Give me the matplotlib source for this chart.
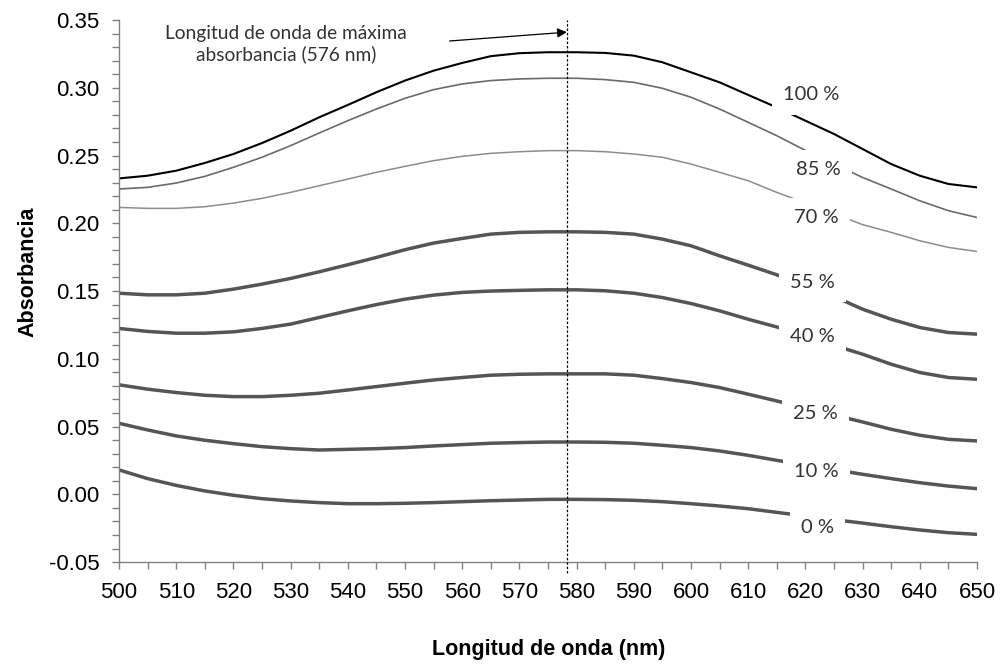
import matplotlib
matplotlib.use("Agg")
import matplotlib.pyplot as plt
from matplotlib.ticker import MultipleLocator, FormatStrFormatter

# ── Data (every 5 nm) ────────────────────────────────────────────────────────
wavelength = [500, 505, 510, 515, 520, 525, 530, 535, 540, 545, 550, 555, 560, 565, 570, 575,
              580, 585, 590, 595, 600, 605, 610, 615, 620, 625, 630, 635, 640, 645, 650]

abs_100 = [0.2331, 0.2351, 0.2388, 0.2445, 0.2511, 0.2592, 0.2683, 0.2782, 0.2873, 0.2967, 0.3053,
           0.3126, 0.3183, 0.3233, 0.3255, 0.3262, 0.3262, 0.3257, 0.3237, 0.3188, 0.3114, 0.3040,
           0.2947, 0.2855, 0.2757, 0.2659, 0.2548, 0.2437, 0.2351, 0.2290, 0.2265]
abs_85 = [0.2253, 0.2265, 0.2297, 0.2346, 0.2413, 0.2487, 0.2573, 0.2666, 0.2757, 0.2843, 0.2922,
          0.2986, 0.3028, 0.3053, 0.3065, 0.3070, 0.3070, 0.3060, 0.3040, 0.2996, 0.2930, 0.2843,
          0.2745, 0.2646, 0.2538, 0.2438, 0.2338, 0.2253, 0.2166, 0.2093, 0.2043]
abs_70 = [0.2117, 0.2110, 0.2110, 0.2122, 0.2149, 0.2184, 0.2228, 0.2277, 0.2326, 0.2376, 0.2420,
          0.2462, 0.2494, 0.2516, 0.2528, 0.2536, 0.2536, 0.2528, 0.2511, 0.2487, 0.2437, 0.2376,
          0.2314, 0.2228, 0.2150, 0.2070, 0.1990, 0.1933, 0.1871, 0.1822, 0.1792]
abs_55 = [0.1484, 0.1472, 0.1472, 0.1484, 0.1514, 0.1551, 0.1593, 0.1642, 0.1694, 0.1748, 0.1805,
          0.1854, 0.1888, 0.1920, 0.1933, 0.1937, 0.1937, 0.1933, 0.1920, 0.1883, 0.1834, 0.1760,
          0.1691, 0.1620, 0.1537, 0.1460, 0.1366, 0.1292, 0.1231, 0.1194, 0.1182]
abs_40 = [0.1224, 0.1202, 0.1189, 0.1189, 0.1199, 0.1224, 0.1256, 0.1305, 0.1354, 0.1400, 0.1440,
          0.1470, 0.1490, 0.1500, 0.1505, 0.1509, 0.1509, 0.1502, 0.1484, 0.1452, 0.1408, 0.1354,
          0.1292, 0.1235, 0.1164, 0.1099, 0.1034, 0.0960, 0.0899, 0.0862, 0.0849]
abs_25 = [0.0808, 0.0776, 0.0751, 0.0731, 0.0721, 0.0721, 0.0731, 0.0746, 0.0770, 0.0795, 0.0820,
          0.0844, 0.0862, 0.0879, 0.0886, 0.0889, 0.0889, 0.0889, 0.0879, 0.0854, 0.0825, 0.0788,
          0.0739, 0.0689, 0.0637, 0.0585, 0.0534, 0.0480, 0.0436, 0.0406, 0.0394]
abs_10 = [0.0524, 0.0475, 0.0431, 0.0399, 0.0374, 0.0352, 0.0337, 0.0327, 0.0332, 0.0337, 0.0345,
          0.0357, 0.0367, 0.0377, 0.0382, 0.0386, 0.0386, 0.0384, 0.0377, 0.0362, 0.0345, 0.0320,
          0.0288, 0.0251, 0.0216, 0.0182, 0.0148, 0.0116, 0.0086, 0.0061, 0.0042]
abs_0 = [0.0180, 0.0116, 0.0066, 0.0025, -0.0007, -0.0032, -0.0049, -0.0061, -0.0069, -0.0069,
         -0.0066, -0.0061, -0.0054, -0.0047, -0.0042, -0.0037, -0.0037, -0.0039, -0.0044, -0.0054,
         -0.0069, -0.0086, -0.0106, -0.0133, -0.0160, -0.0187, -0.0212, -0.0239, -0.0263, -0.0283,
         -0.0295]

series = [abs_100, abs_85, abs_70, abs_55, abs_40, abs_25, abs_10, abs_0]
labels = ["100 %", "85 %", "70 %", "55 %", "40 %", "25 %", "10 %", "0 %"]
label_x = [621.0, 622.3, 622.0, 621.2, 621.2, 621.7, 622.0, 622.1]
label_y = [0.2947, 0.2395, 0.2043, 0.1563, 0.1162, 0.0596, 0.0165, -0.0241]

lambda_max = 578.3

# ── Styles ────────────────────────────────────────────────────────────────────
colors = ["#000000", "#6a6a6a", "#8c8c8c"] + ["#555555"] * 5
widths = [1.5, 1.2, 1.1] + [2.5] * 5

fig = plt.figure(figsize=(10.02, 6.66), dpi=100)
ax = fig.add_axes([0.1188, 0.156, 0.8562, 0.814])

for y, c, lw in zip(series, colors, widths):
    ax.plot(wavelength, y, color=c, linewidth=lw, zorder=2)

# percentage labels sit on white boxes that break the curves
for txt, lx, ly in zip(labels, label_x, label_y):
    ax.text(lx, ly, txt, ha="center", va="center", fontsize=14.5,
            family="Lato", color="#333333", zorder=3,
            bbox=dict(facecolor="white", edgecolor="none", pad=8))

# vertical marker at maximum absorbance
ax.plot([lambda_max, lambda_max], [-0.058, 0.35], color="black", linestyle=(0, (2, 1.5)),
        linewidth=0.9, clip_on=False, zorder=4)

ax.text(529.2, 0.3323, "Longitud de onda de máxima\nabsorbancia (576 nm)", ha="center",
        va="center", fontsize=13.8, family="Lato", color="#333333", linespacing=1.25)
ax.annotate("", xy=(lambda_max, 0.341), xytext=(557.8, 0.3345),
            arrowprops=dict(arrowstyle="-|>", color="black", lw=0.9,
                            mutation_scale=14, shrinkA=0, shrinkB=0))

ax.set_xlim(500, 650)
ax.set_ylim(-0.05, 0.35)
ax.xaxis.set_major_locator(MultipleLocator(10))
ax.xaxis.set_minor_locator(MultipleLocator(5))
ax.yaxis.set_major_locator(MultipleLocator(0.05))
ax.yaxis.set_minor_locator(MultipleLocator(0.01))
ax.yaxis.set_major_formatter(FormatStrFormatter("%.2f"))

for side in ("top", "right"):
    ax.spines[side].set_visible(False)
for side in ("left", "bottom"):
    ax.spines[side].set_color("#808080")
    ax.spines[side].set_linewidth(1.0)

ax.tick_params(axis="both", which="both", direction="out", color="#808080", width=1.0, length=5)
ax.tick_params(axis="both", which="major", labelsize=16)
ax.tick_params(axis="y", which="major", pad=9)
ax.tick_params(axis="x", which="major", pad=9)
for lab in ax.get_xticklabels() + ax.get_yticklabels():
    lab.set_family("Liberation Sans")

ax.set_xlabel("Longitud de onda (nm)", fontsize=15.5, fontweight="bold",
              family="Liberation Sans")
ax.set_ylabel("Absorbancia", fontsize=15.5, fontweight="bold",
              family="Liberation Sans")
ax.xaxis.set_label_coords(0.5006, -0.142)
ax.yaxis.set_label_coords(-0.094, 0.535)

fig.savefig("out.png", dpi=100)
